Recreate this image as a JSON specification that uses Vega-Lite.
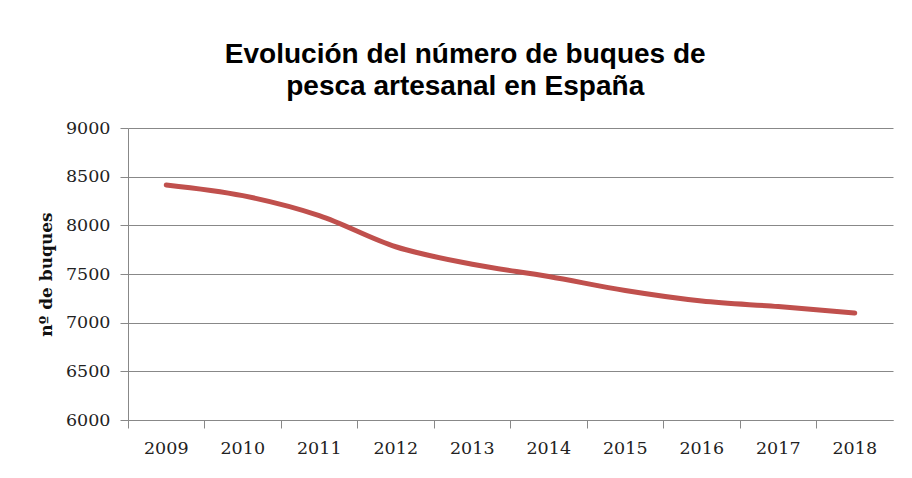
{
  "$schema": "https://vega.github.io/schema/vega-lite/v6.json",
  "autosize": {"type": "none"},
  "width": 765,
  "height": 292,
  "padding": {"left": 128, "top": 128, "right": 19, "bottom": 58},
  "background": "white",
  "title": {
    "text": ["Evolución del número de buques de", "pesca artesanal en España"],
    "font": "Liberation Sans",
    "fontSize": 28,
    "fontWeight": "bold",
    "color": "#000000",
    "anchor": "middle",
    "frame": "bounds",
    "lineHeight": 32,
    "offset": 18
  },
  "data": {
    "values": [
      {"year": "2009", "buques": 8415},
      {"year": "2010", "buques": 8305},
      {"year": "2011", "buques": 8100},
      {"year": "2012", "buques": 7780},
      {"year": "2013", "buques": 7600},
      {"year": "2014", "buques": 7475},
      {"year": "2015", "buques": 7330},
      {"year": "2016", "buques": 7222},
      {"year": "2017", "buques": 7165},
      {"year": "2018", "buques": 7100}
    ]
  },
  "mark": {"type": "line", "color": "#c0504d", "strokeWidth": 5, "interpolate": "monotone", "strokeCap": "round"},
  "encoding": {
    "x": {
      "field": "year",
      "type": "ordinal",
      "scale": {"type": "band", "paddingInner": 0, "paddingOuter": 0},
      "axis": {
        "title": null,
        "labelAngle": 0,
        "bandPosition": 0,
        "grid": false,
        "domainColor": "#888888",
        "tickColor": "#888888",
        "tickSize": 8,
        "labelFont": "DejaVu Serif",
        "labelFontSize": 17.5,
        "labelColor": "#222222",
        "labelPadding": 20,
        "labelBaseline": "middle"
      }
    },
    "y": {
      "field": "buques",
      "type": "quantitative",
      "scale": {"domain": [6000, 9000]},
      "axis": {
        "title": "nº de buques",
        "titleFont": "DejaVu Serif",
        "titleFontSize": 17,
        "titleFontWeight": "bold",
        "titleColor": "#111111",
        "titlePadding": 10,
        "values": [6000, 6500, 7000, 7500, 8000, 8500, 9000],
        "format": "d",
        "grid": true,
        "gridColor": "#888888",
        "gridWidth": 1,
        "domainColor": "#888888",
        "tickColor": "#888888",
        "tickSize": 8,
        "labelFont": "DejaVu Serif",
        "labelFontSize": 17.5,
        "labelColor": "#222222",
        "labelPadding": 10
      }
    }
  },
  "config": {"view": {"stroke": null}}
}
